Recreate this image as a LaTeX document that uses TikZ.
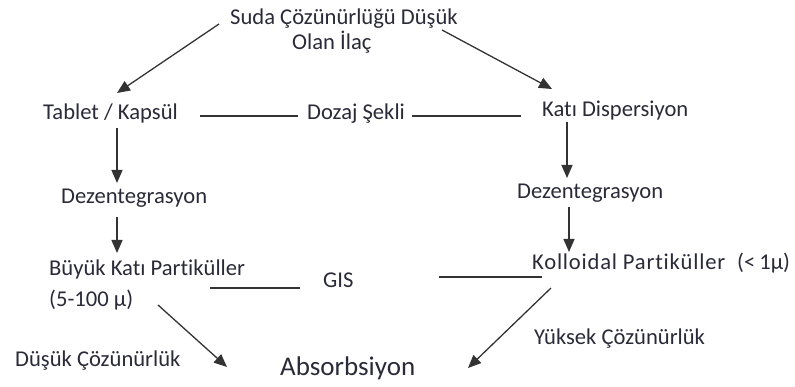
\documentclass[tikz,border=0pt]{standalone}
\usepackage{fontspec}
\setmainfont[Ligatures=NoCommon]{Carlito}
\usetikzlibrary{arrows.meta}
\definecolor{txt}{HTML}{2A2A38}
\definecolor{ln}{HTML}{333333}
\tikzset{
  lbl/.style={anchor=base west, inner sep=0pt, text=txt, font=\fontsize{22.6}{26}\selectfont},
  bigl/.style={anchor=base west, inner sep=0pt, text=txt, font=\fontsize{27}{30}\selectfont},
  arr/.style={draw=ln, line width=1.3pt, -{Triangle[length=13pt,width=11pt]}},
  plain/.style={draw=ln, line width=1.6pt}
}
\begin{document}
\begin{tikzpicture}[x=1pt,y=-1pt]
\useasboundingbox (0,0) rectangle (795,387);
% texts
\node[lbl] (t1) at (230,25) {Suda Çözünürlüğü Düşük};
\node[lbl] (t2) at (292,50) {Olan İlaç};
\node[lbl] (tab) at (43,120) {Tablet / Kapsül};
\node[lbl] (doz) at (307,120) {Dozaj Şekli};
\node[lbl] (kati) at (542,117) {Katı Dispersiyon};
\node[lbl] (dezl) at (61,204) {Dezentegrasyon};
\node[lbl] (dezr) at (517,199) {Dezentegrasyon};
\node[lbl] (buy) at (49,276) {Büyük Katı Partiküller};
\node[lbl] (buy2) at (49,307) {(5-100 µ)};
\node[lbl] (gis) at (323,288) {GIS};
\node[lbl] (kol) at (532,270) {{\addfontfeature{LetterSpace=3.5}Kolloidal Partiküller}\hspace{12pt}(<\hspace{4pt}1µ)};
\node[lbl] (dus) at (15,366) {Düşük Çözünürlük};
\node[lbl] (yuk) at (534,344) {Yüksek Çözünürlük};
\node[bigl] (abs) at (280,375) {Absorbsiyon};
% connector end points
\coordinate (a1s) at (219,24);  \coordinate (a1e) at (117,93);
\coordinate (a2s) at (442,30);  \coordinate (a2e) at (552,89);
\coordinate (a3s) at (117,128); \coordinate (a3e) at (117,183);
\coordinate (a4s) at (117,217); \coordinate (a4e) at (117,253);
\coordinate (a5s) at (567,122); \coordinate (a5e) at (567,178);
\coordinate (a6s) at (569,207); \coordinate (a6e) at (569,252);
\coordinate (a7s) at (158,305); \coordinate (a7e) at (227,367);
\coordinate (a8s) at (551,288); \coordinate (a8e) at (468,368);
\coordinate (l1s) at (200,116); \coordinate (l1e) at (298,116);
\coordinate (l2s) at (412,116); \coordinate (l2e) at (521,116);
\coordinate (l3s) at (210,288); \coordinate (l3e) at (300,288);
\coordinate (l4s) at (439,277); \coordinate (l4e) at (542,277);
% arrows
\draw[arr] (a1s) -- (a1e);
\draw[arr] (a2s) -- (a2e);
\draw[arr] (a3s) -- (a3e);
\draw[arr] (a4s) -- (a4e);
\draw[arr] (a5s) -- (a5e);
\draw[arr] (a6s) -- (a6e);
\draw[arr] (a7s) -- (a7e);
\draw[arr] (a8s) -- (a8e);
% plain lines
\draw[plain] (l1s) -- (l1e);
\draw[plain] (l2s) -- (l2e);
\draw[plain] (l3s) -- (l3e);
\draw[plain] (l4s) -- (l4e);
\end{tikzpicture}
\end{document}
